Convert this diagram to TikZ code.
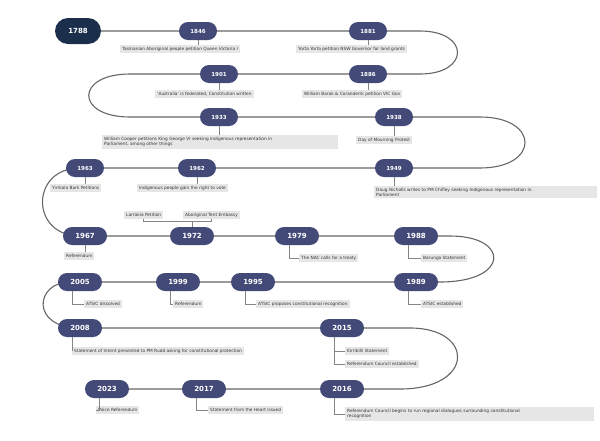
\documentclass[tikz,border=0pt]{standalone}
\usepackage{fontspec}
\setmainfont{DejaVu Sans}
\definecolor{yrc}{HTML}{434A78}
\definecolor{firstc}{HTML}{1B2F4C}
\definecolor{labc}{HTML}{E6E6E6}
\definecolor{linec}{HTML}{666666}
\begin{document}
\begin{tikzpicture}[x=1pt,y=-1pt,
 yr/.style={fill=yrc,text=white,font=\fontsize{5.5}{6}\selectfont\bfseries,minimum width=38,minimum height=18,rounded corners=9,inner sep=0},
 yrb/.style={yr,font=\fontsize{7}{8}\selectfont\bfseries,minimum width=44},
 lab/.style={fill=labc,text=black!80,font=\fontsize{4.3}{5.2}\selectfont,inner sep=2pt,anchor=west,align=left},
 path/.style={draw=linec,line width=1.1pt},
 conn/.style={draw=linec!80,line width=0.5pt}]
\useasboundingbox (0,0) rectangle (600,440);
% timeline path
\draw[path] (78,31) -- (420,31) .. controls (470,31) and (470,74) .. (420,74)
 -- (130,74) .. controls (75,74) and (75,117) .. (130,117)
 -- (480,117) .. controls (540,117) and (540,168) .. (480,168)
 -- (80,168) .. controls (30,168) and (30,236) .. (80,236)
 -- (450,236) .. controls (510,236) and (510,282) .. (440,282)
 -- (70,282) .. controls (35,282) and (30,328) .. (80,328)
 -- (410,328) .. controls (475,328) and (475,389) .. (400,389)
 -- (107,389);
% year nodes
\node[yrb,fill=firstc,minimum width=46,minimum height=26,rounded corners=13] (y1788) at (78,31) {1788};
\node[yr] (y1846) at (198,31) {1846};
\node[yr] (y1881) at (368,31) {1881};
\node[yr] (y1901) at (219,74) {1901};
\node[yr] (y1886) at (368,74) {1886};
\node[yr] (y1933) at (219,117) {1933};
\node[yr] (y1938) at (394,117) {1938};
\node[yr] (y1963) at (85,168) {1963};
\node[yr] (y1962) at (197,168) {1962};
\node[yr] (y1949) at (394,168) {1949};
\node[yrb] (y1967) at (85,236) {1967};
\node[yrb] (y1972) at (192,236) {1972};
\node[yrb] (y1979) at (297,236) {1979};
\node[yrb] (y1988) at (416,236) {1988};
\node[yrb] (y2005) at (80,282) {2005};
\node[yrb] (y1999) at (178,282) {1999};
\node[yrb] (y1995) at (253,282) {1995};
\node[yrb] (y1989) at (416,282) {1989};
\node[yrb] (y2008) at (80,328) {2008};
\node[yrb] (y2015) at (342,328) {2015};
\node[yrb] (y2023) at (107,389) {2023};
\node[yrb] (y2017) at (204,389) {2017};
\node[yrb] (y2016) at (342,389) {2016};
% labels
\node[lab] (l1846) at (120,49) {Tasmanian Aboriginal people petition Queen Victoria I};
\node[lab] (l1881) at (296,49) {Yorta Yorta petition NSW Governor for land grants};
\node[lab] (l1901) at (155,94) {`Australia' is federated, Constitution written};
\node[lab] (l1886) at (302,94) {William Barak \& Coranderrk petition VIC Gov};
\node[lab,text width=232] (l1933) at (102,142) {William Cooper petitions King George VI seeking Indigenous representation in\\Parliament, among other things};
\node[lab] (l1938) at (356,140) {Day of Mourning Protest};
\node[lab] (l1963) at (50,188) {Yirrkala Bark Petitions};
\node[lab] (l1962) at (137,188) {Indigenous people gain the right to vote};
\node[lab,text width=219] (l1949) at (374,192) {Doug Nicholls writes to PM Chifley seeking Indigenous representation in\\Parliament};
\node[lab] (l1972a) at (124,215) {Larrakia Petition};
\node[lab] (l1972b) at (183,215) {Aboriginal Tent Embassy};
\node[lab] (l1967) at (64,256) {Referendum};
\node[lab] (l1979) at (299,258) {The NAC calls for a treaty};
\node[lab] (l1988) at (421,258) {Barunga Statement};
\node[lab] (l2005) at (84,304) {ATSIC dissolved};
\node[lab] (l1999) at (173,304) {Referendum};
\node[lab] (l1995) at (256,304) {ATSIC proposes constitutional recognition};
\node[lab] (l1989) at (421,304) {ATSIC established};
\node[lab] (l2008) at (72,351) {Statement of Intent presented to PM Rudd asking for constitutional protection};
\node[lab] (l2015a) at (345,351) {Kirribilli Statement};
\node[lab] (l2015b) at (345,364) {Referendum Council established};
\node[lab] (l2023) at (96,410) {Voice Referendum};
\node[lab] (l2017) at (208,410) {Statement from the Heart issued};
\node[lab,text width=245] (l2016) at (345,414) {Referendum Council begins to run regional dialogues surrounding constitutional\\recognition};
% connectors
\foreach \n in {1846,1881,1901,1886,1933,1938,1963,1962,1949,1967}
  \draw[conn] (y\n.south) -- (y\n.south|-l\n.north);
\draw[conn] (y1972.north) -- ++(0,-6) coordinate (c72);
\draw[conn] (l1972a.south) |- (c72) -| (l1972b.south);
\foreach \n in {1979,1988,2005,1999,1995,1989,2008,2023,2017,2016}
  \draw[conn] ([xshift=-8]y\n.south) |- (l\n.west);
\draw[conn] ([xshift=-8]y2015.south) |- (l2015a.west);
\draw[conn] ([xshift=-8]y2015.south) |- (l2015b.west);
\end{tikzpicture}
\end{document}
